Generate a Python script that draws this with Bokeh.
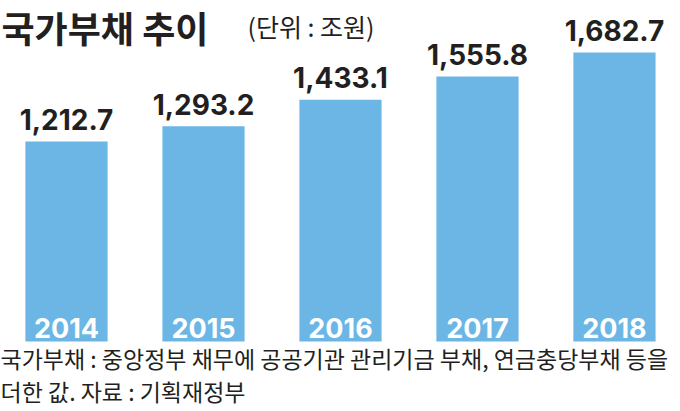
from bokeh.plotting import figure
from bokeh.models import Range1d, ColumnDataSource, Label
from bokeh.core.properties import value
from bokeh.embed import file_html
from bokeh.resources import INLINE

years = ["2014", "2015", "2016", "2017", "2018"]
debt = [1212.7, 1293.2, 1433.1, 1555.8, 1682.7]
debt_labels = ["1,212.7", "1,293.2", "1,433.1", "1,555.8", "1,682.7"]
title_main = "국가부채 추이"
title_unit = "(단위 : 조원)"
note_1 = "국가부채 : 중앙정부 채무에 공공기관 관리기금 부채, 연금충당부채 등을"
note_2 = "더한 값. 자료 : 기획재정부"

BASE = 156.7
FONT = "Noto Sans CJK KR"
NUMFONT = "Inter"
INK = "#231f20"
BAR = "#6cb6e5"

xs = list(range(len(years)))
src = ColumnDataSource(dict(x=xs, top=debt, lab=debt_labels, yr=years,
                            base=[BASE] * len(xs)))

p = figure(width=680, height=411, output_backend="svg", toolbar_location=None,
           x_range=Range1d(-0.4818, 4.482), y_range=Range1d(-212.9, 1957.1),
           min_border=0, border_fill_color="white", background_fill_color="white")
p.axis.visible = False
p.grid.visible = False
p.outline_line_color = None

p.vbar(x="x", top="top", bottom="base", width=0.6, source=src,
       fill_color=BAR, line_color=None)

p.text(x="x", y="top", text="lab", source=src, text_align="center",
       text_baseline="alphabetic", y_offset=-22, text_font=value(NUMFONT),
       text_font_style="bold", text_font_size="28px", text_color=INK)

p.text(x="x", y="base", text="yr", source=src, text_align="center",
       text_baseline="alphabetic", y_offset=-13, text_font=value(NUMFONT),
       text_font_style="bold", text_font_size="27px", text_color="white")

p.add_layout(Label(x=1, y=385, x_units="screen", y_units="screen", text=title_main,
                   text_font=FONT, text_font_style="bold", text_font_size="36px",
                   text_color=INK, text_baseline="middle"))
p.add_layout(Label(x=247, y=386, x_units="screen", y_units="screen", text=title_unit,
                   text_font=FONT, text_font_size="25px",
                   text_color=INK, text_baseline="middle"))
p.add_layout(Label(x=0, y=54, x_units="screen", y_units="screen", text=note_1,
                   text_font=FONT, text_font_size="23px",
                   text_color=INK, text_baseline="middle"))
p.add_layout(Label(x=0, y=21, x_units="screen", y_units="screen", text=note_2,
                   text_font=FONT, text_font_size="23px",
                   text_color=INK, text_baseline="middle"))

open("out.html", "w").write(file_html(p, INLINE))
